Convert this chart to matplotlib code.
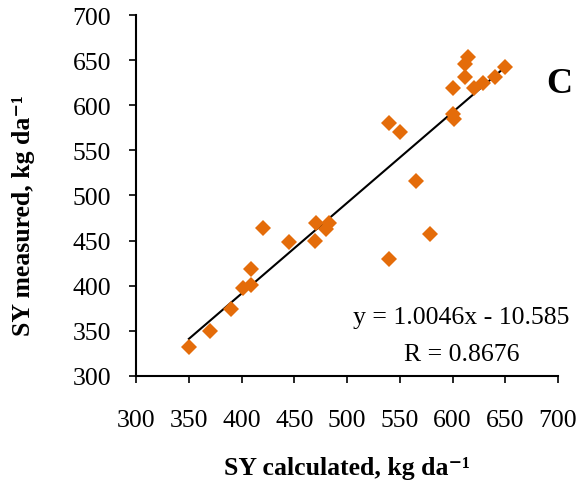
import matplotlib
matplotlib.use("Agg")
import matplotlib.pyplot as plt
import numpy as np

sy_calculated = [350, 370, 390, 401, 409, 409, 420, 445, 470, 471, 480, 483,
                 540, 540, 550, 565, 579, 600, 600, 601, 612, 612, 615, 620,
                 629, 640, 650]
sy_measured = [332, 350, 374, 397, 401, 418, 464, 448, 450, 469, 463, 469,
               430, 580, 570, 516, 457, 619, 590, 585, 631, 646, 654, 619,
               625, 631, 642]
slope = 1.0046
intercept = -10.585
r_value = 0.8676
x_ticks = [300, 350, 400, 450, 500, 550, 600, 650, 700]
y_ticks = [300, 350, 400, 450, 500, 550, 600, 650, 700]

plt.rcParams['font.family'] = ['Liberation Serif', 'DejaVu Serif']

fig = plt.figure(figsize=(5.77, 4.85), dpi=100)
ax = fig.add_axes([0.236, 0.223, 0.731, 0.744])

ax.plot(sy_calculated, sy_measured, linestyle='none', marker='D',
        markersize=8.5, color='#E46C0A', markeredgewidth=0, zorder=3)

xl = np.array([min(sy_calculated), max(sy_calculated)])
ax.plot(xl, slope * xl + intercept, color='black', linewidth=1.5, zorder=2)

ax.set_xlim(300, 700)
ax.set_ylim(300, 700)
ax.set_xticks(x_ticks)
ax.set_yticks(y_ticks)
ax.tick_params(axis='both', labelsize=18.5, direction='out', length=5,
               width=1.2, color='black')
ax.tick_params(axis='x', pad=19)
ax.tick_params(axis='y', pad=13)
for s in ['top', 'right']:
    ax.spines[s].set_visible(False)
for s in ['left', 'bottom']:
    ax.spines[s].set_linewidth(1.5)

ax.set_xlabel('SY calculated, kg da\u207b\u00b9', fontsize=18.5,
              fontweight='bold')
ax.xaxis.set_label_coords(0.5, -0.222)
ax.set_ylabel('SY measured, kg da\u207b\u00b9', fontsize=18.5,
              fontweight='bold')
ax.yaxis.set_label_coords(-0.239, 0.446)

ax.text(1.033, 0.809, 'C', transform=ax.transAxes, fontsize=26,
        fontweight='bold', ha='right', va='center')
ax.text(1.026, 0.163, f'y = {slope}x - {abs(intercept)}', transform=ax.transAxes,
        fontsize=18.5, ha='right', va='center')
ax.text(0.771, 0.061, f'R = {r_value}', transform=ax.transAxes,
        fontsize=18.5, ha='center', va='center')

fig.savefig('out.png', dpi=100)
